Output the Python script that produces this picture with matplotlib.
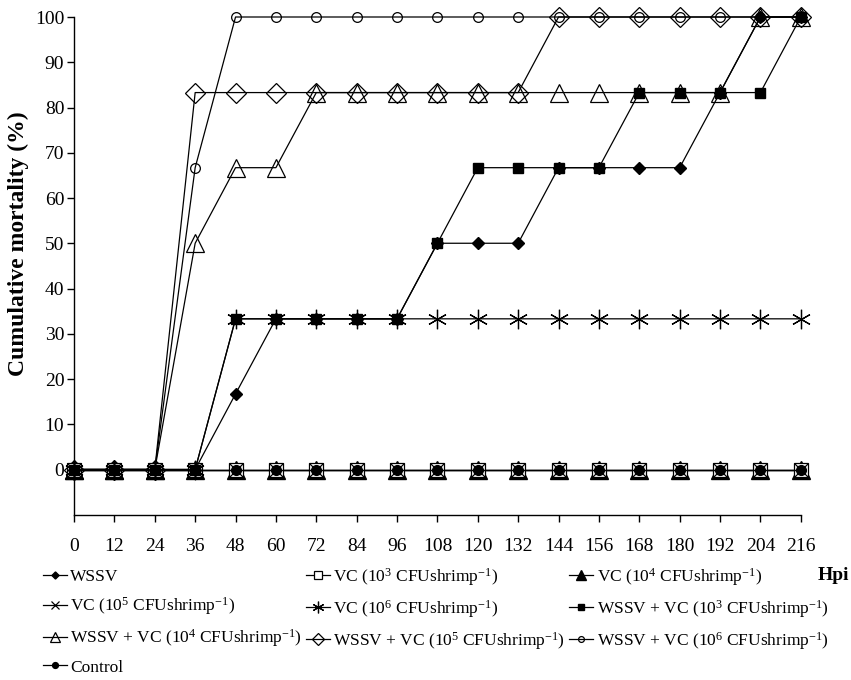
import matplotlib
matplotlib.use("Agg")
import matplotlib.pyplot as plt

plt.rcParams['font.family'] = ['Liberation Serif', 'DejaVu Serif']
plt.rcParams['mathtext.fontset'] = 'custom'
plt.rcParams['mathtext.rm'] = 'Liberation Serif'
plt.rcParams['mathtext.it'] = 'Liberation Serif:italic'
plt.rcParams['mathtext.bf'] = 'Liberation Serif:bold'

# hours post infection
hpi = [0, 12, 24, 36, 48, 60, 72, 84, 96, 108, 120, 132, 144, 156, 168, 180, 192, 204, 216]

# cumulative mortality (%)
wssv = [0, 0, 0, 0, 16.7, 33.3, 33.3, 33.3, 33.3, 50, 50, 50, 66.7, 66.7, 66.7, 66.7, 83.3, 100, 100]
vc3 = [0] * 19
vc4 = [0] * 19
vc5 = [0] * 19
vc6 = [0, 0, 0, 0, 33.3, 33.3, 33.3, 33.3, 33.3, 33.3, 33.3, 33.3, 33.3, 33.3, 33.3, 33.3, 33.3, 33.3, 33.3]
wv3 = [0, 0, 0, 0, 33.3, 33.3, 33.3, 33.3, 33.3, 50, 66.7, 66.7, 66.7, 66.7, 83.3, 83.3, 83.3, 83.3, 100]
wv4 = [0, 0, 0, 50, 66.7, 66.7, 83.3, 83.3, 83.3, 83.3, 83.3, 83.3, 83.3, 83.3, 83.3, 83.3, 83.3, 100, 100]
wv5 = [0, 0, 0, 83.3, 83.3, 83.3, 83.3, 83.3, 83.3, 83.3, 83.3, 83.3, 100, 100, 100, 100, 100, 100, 100]
wv6 = [0, 0, 0, 66.7, 100, 100, 100, 100, 100, 100, 100, 100, 100, 100, 100, 100, 100, 100, 100]
control = [0] * 19

lab_wssv = 'WSSV'
lab_vc3 = r'VC (10$^{3}$ CFUshrimp$^{-1}$)'
lab_vc4 = r'VC (10$^{4}$ CFUshrimp$^{-1}$)'
lab_vc5 = r'VC (10$^{5}$ CFUshrimp$^{-1}$)'
lab_vc6 = r'VC (10$^{6}$ CFUshrimp$^{-1}$)'
lab_wv3 = r'WSSV + VC (10$^{3}$ CFUshrimp$^{-1}$)'
lab_wv4 = r'WSSV + VC (10$^{4}$ CFUshrimp$^{-1}$)'
lab_wv5 = r'WSSV + VC (10$^{5}$ CFUshrimp$^{-1}$)'
lab_wv6 = r'WSSV + VC (10$^{6}$ CFUshrimp$^{-1}$)'
lab_ctrl = 'Control'

fig = plt.figure(figsize=(8.51, 6.80), dpi=100)
ax = fig.add_axes([0.087, 0.243, 0.854, 0.732])

kw = dict(color='black', lw=0.9, clip_on=False)
h = {}
h['wv6'], = ax.plot(hpi, wv6, marker='o', ms=7, mfc='none', mec='black', mew=0.9, label=lab_wv6, **kw)
h['wv5'], = ax.plot(hpi, wv5, marker='D', ms=10, mfc='none', mec='black', mew=0.9, label=lab_wv5, **kw)
h['wv4'], = ax.plot(hpi, wv4, marker='^', ms=13, mfc='none', mec='black', mew=0.9, label=lab_wv4, **kw)
h['vc4'], = ax.plot(hpi, vc4, marker='^', ms=13, mfc='black', mec='black', label=lab_vc4, **kw)
h['vc3'], = ax.plot(hpi, vc3, marker='s', ms=10, mfc='white', mec='black', mew=0.9, label=lab_vc3, **kw)
h['vc5'], = ax.plot(hpi, vc5, marker='x', ms=10, mec='black', mew=0.9, label=lab_vc5, **kw)
h['vc6'], = ax.plot(hpi, vc6, marker=(6, 2, 0), ms=14, mec='black', mew=0.9, label=lab_vc6, **kw)
h['wv3'], = ax.plot(hpi, wv3, marker='s', ms=7, mfc='black', mec='black', label=lab_wv3, **kw)
h['wssv'], = ax.plot(hpi, wssv, marker='D', ms=6, mfc='black', mec='black', label=lab_wssv, **kw)
h['ctrl'], = ax.plot(hpi, control, marker='o', ms=7, mfc='black', mec='black', label=lab_ctrl, **kw)

ax.set_xlim(0, 216)
ax.set_ylim(-10, 100)
ax.set_xticks(hpi)
ax.set_yticks(range(0, 101, 10))
ax.tick_params(axis='both', direction='out', length=5, width=1, labelsize=14, pad=2)
ax.tick_params(axis='x', pad=12)
ax.spines['top'].set_visible(False)
ax.spines['right'].set_visible(False)
ax.spines['left'].set_linewidth(1)
ax.spines['bottom'].set_linewidth(1)

ax.set_ylabel('Cumulative mortality (%)', fontsize=17, fontweight='bold')
ax.yaxis.set_label_coords(-0.062, 60 / 110)

order = ['wssv', 'vc5', 'wv4', 'ctrl', 'vc3', 'vc6', 'wv5', 'vc4', 'wv3', 'wv6']
leg = fig.legend([h[k] for k in order], [h[k].get_label() for k in order],
                 loc='upper left', bbox_to_anchor=(0.05, 0.168), ncol=3,
                 frameon=False, fontsize=12.5, handlelength=1.4, handletextpad=0.2,
                 columnspacing=0.2, labelspacing=0.58, borderpad=0, borderaxespad=0,
                 markerscale=0.6)

fig.text(0.961, 0.154, 'Hpi', fontsize=14, fontweight='bold', ha='left', va='center')

fig.savefig('out.png', dpi=100)
